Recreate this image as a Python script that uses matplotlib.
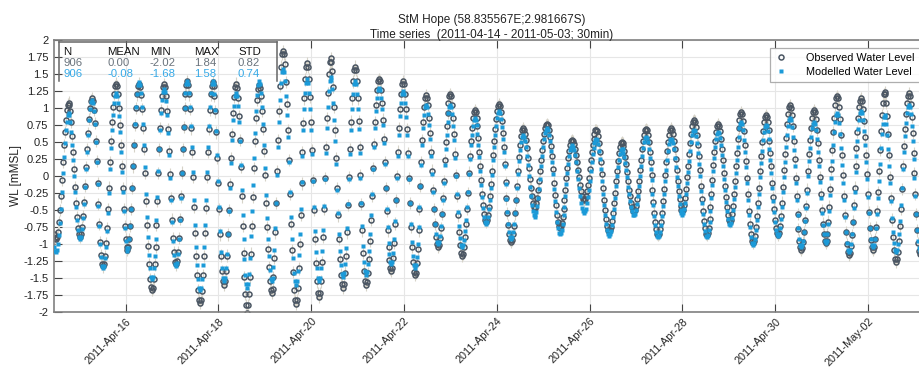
import matplotlib
matplotlib.use("Agg")
import matplotlib.pyplot as plt
import matplotlib.dates as mdates
from matplotlib.lines import Line2D
import numpy as np
import pandas as pd

# ---------------- data ----------------
start_time = "2011-04-14 11:00"
step = "30min"

observed_wl = [
    -0.85, -0.91,
    -0.93, -0.90, -0.82, -0.68, -0.50, -0.30, -0.06, 0.21, 0.45, 0.65, 0.83, 0.97, 1.05,
    1.08, 1.05, 0.95, 0.79, 0.59, 0.35, 0.10, -0.16, -0.40, -0.60, -0.76, -0.86,
    -0.89, -0.86, -0.75, -0.59, -0.38, -0.14, 0.13, 0.39, 0.63, 0.84, 1.00, 1.11,
    1.14, 1.10, 0.97, 0.78, 0.52, 0.22, -0.10, -0.41, -0.71, -0.97, -1.16, -1.29,
    -1.33, -1.29, -1.18, -0.99, -0.76, -0.48, -0.17, 0.20, 0.51, 0.79, 1.02, 1.21, 1.32,
    1.36, 1.32, 1.20, 1.00, 0.75, 0.45, 0.14, -0.18, -0.48, -0.73, -0.93, -1.05,
    -1.09, -1.05, -0.93, -0.73, -0.48, -0.18, 0.14, 0.45, 0.75, 1.00, 1.20, 1.32,
    1.36, 1.31, 1.19, 0.98, 0.71, 0.40, 0.05, -0.37, -0.72, -1.03, -1.30, -1.51, -1.63,
    -1.68, -1.64, -1.51, -1.30, -1.04, -0.72, -0.37, 0.04, 0.39, 0.71, 0.97, 1.18, 1.31,
    1.35, 1.31, 1.17, 0.96, 0.69, 0.37, 0.03, -0.32, -0.64, -0.91, -1.12, -1.26,
    -1.30, -1.25, -1.12, -0.91, -0.63, -0.30, 0.05, 0.39, 0.72, 1.00, 1.21, 1.34,
    1.39, 1.34, 1.20, 0.98, 0.70, 0.36, -0.02, -0.46, -0.84, -1.18, -1.46, -1.68, -1.82,
    -1.87, -1.82, -1.69, -1.46, -1.18, -0.84, -0.47, -0.02, 0.35, 0.69, 0.97, 1.20, 1.33,
    1.38, 1.33, 1.18, 0.95, 0.64, 0.27, -0.11, -0.49, -0.86, -1.17, -1.40, -1.55,
    -1.60, -1.55, -1.40, -1.17, -0.86, -0.50, -0.12, 0.26, 0.62, 0.93, 1.16, 1.31,
    1.36, 1.30, 1.14, 0.88, 0.53, 0.13, -0.30, -0.73, -1.13, -1.48, -1.74, -1.90,
    -2.02, -1.90, -1.74, -1.48, -1.14, -0.74, -0.31, 0.12, 0.52, 0.86, 1.12, 1.28,
    1.34, 1.29, 1.17, 0.96, 0.69, 0.37, 0.02, -0.40, -0.75, -1.07, -1.34, -1.55, -1.67,
    -1.72, -1.66, -1.48, -1.20, -0.83, -0.40, 0.07, 0.53, 0.96, 1.33, 1.61, 1.79,
    1.84, 1.79, 1.64, 1.38, 1.06, 0.67, 0.24, -0.27, -0.70, -1.09, -1.41, -1.67, -1.82,
    -1.88, -1.82, -1.64, -1.36, -1.00, -0.57, -0.11, 0.35, 0.78, 1.14, 1.42, 1.60,
    1.66, 1.60, 1.43, 1.16, 0.80, 0.38, -0.06, -0.50, -0.92, -1.28, -1.55, -1.72,
    -1.78, -1.72, -1.55, -1.27, -0.90, -0.48, -0.03, 0.43, 0.85, 1.22, 1.50, 1.67,
    1.73, 1.68, 1.54, 1.31, 1.01, 0.67, 0.27, -0.18, -0.58, -0.92, -1.22, -1.45, -1.59,
    -1.64, -1.59, -1.42, -1.17, -0.83, -0.43, -0.02, 0.40, 0.80, 1.14, 1.39, 1.56,
    1.61, 1.56, 1.40, 1.14, 0.81, 0.42, 0.01, -0.41, -0.80, -1.13, -1.39, -1.55,
    -1.60, -1.56, -1.43, -1.22, -0.95, -0.64, -0.29, 0.12, 0.47, 0.79, 1.05, 1.26, 1.39,
    1.43, 1.39, 1.27, 1.08, 0.83, 0.54, 0.21, -0.18, -0.51, -0.80, -1.05, -1.24, -1.36,
    -1.40, -1.35, -1.21, -0.99, -0.70, -0.36, 0.00, 0.36, 0.70, 0.99, 1.21, 1.35,
    1.40, 1.35, 1.21, 0.98, 0.69, 0.34, -0.03, -0.40, -0.75, -1.04, -1.27, -1.41,
    -1.46, -1.42, -1.28, -1.07, -0.80, -0.48, -0.14, 0.21, 0.53, 0.80, 1.01, 1.15,
    1.19, 1.15, 1.04, 0.86, 0.63, 0.36, 0.08, -0.21, -0.48, -0.71, -0.89, -1.00,
    -1.04, -1.01, -0.91, -0.76, -0.56, -0.33, -0.07, 0.24, 0.50, 0.73, 0.93, 1.08, 1.18,
    1.21, 1.17, 1.05, 0.86, 0.62, 0.33, 0.02, -0.29, -0.58, -0.82, -1.01, -1.13,
    -1.17, -1.14, -1.05, -0.90, -0.71, -0.49, -0.25, 0.05, 0.29, 0.51, 0.70, 0.85, 0.94,
    0.97, 0.94, 0.86, 0.73, 0.56, 0.36, 0.15, -0.06, -0.26, -0.43, -0.56, -0.64,
    -0.67, -0.64, -0.57, -0.45, -0.30, -0.12, 0.08, 0.31, 0.51, 0.69, 0.84, 0.96, 1.03,
    1.06, 1.03, 0.94, 0.81, 0.63, 0.42, 0.18, -0.09, -0.33, -0.54, -0.72, -0.85, -0.94,
    -0.97, -0.94, -0.86, -0.73, -0.55, -0.35, -0.14, 0.08, 0.28, 0.46, 0.59, 0.67,
    0.70, 0.68, 0.62, 0.53, 0.41, 0.27, 0.12, -0.04, -0.18, -0.30, -0.39, -0.45,
    -0.47, -0.45, -0.40, -0.32, -0.21, -0.08, 0.07, 0.23, 0.38, 0.51, 0.62, 0.70, 0.75,
    0.77, 0.75, 0.68, 0.58, 0.44, 0.29, 0.11, -0.10, -0.28, -0.43, -0.57, -0.67, -0.74,
    -0.76, -0.74, -0.69, -0.60, -0.49, -0.35, -0.20, -0.03, 0.12, 0.26, 0.37, 0.46, 0.51,
    0.53, 0.52, 0.47, 0.40, 0.31, 0.20, 0.09, -0.02, -0.13, -0.22, -0.29, -0.34,
    -0.35, -0.34, -0.29, -0.22, -0.13, -0.03, 0.10, 0.24, 0.36, 0.46, 0.55, 0.62, 0.67,
    0.68, 0.66, 0.59, 0.49, 0.36, 0.21, 0.03, -0.17, -0.35, -0.50, -0.63, -0.73, -0.80,
    -0.82, -0.80, -0.75, -0.66, -0.54, -0.40, -0.25, -0.07, 0.08, 0.22, 0.34, 0.43, 0.48,
    0.50, 0.49, 0.44, 0.37, 0.28, 0.18, 0.06, -0.08, -0.20, -0.30, -0.39, -0.46, -0.51,
    -0.52, -0.50, -0.44, -0.34, -0.22, -0.07, 0.09, 0.24, 0.39, 0.51, 0.61, 0.67,
    0.69, 0.67, 0.60, 0.50, 0.36, 0.20, 0.02, -0.20, -0.38, -0.54, -0.68, -0.78, -0.85,
    -0.87, -0.85, -0.78, -0.67, -0.54, -0.37, -0.19, 0.02, 0.20, 0.37, 0.50, 0.61, 0.68,
    0.70, 0.68, 0.62, 0.52, 0.40, 0.25, 0.09, -0.07, -0.22, -0.34, -0.44, -0.50,
    -0.52, -0.50, -0.43, -0.32, -0.19, -0.02, 0.15, 0.32, 0.49, 0.62, 0.73, 0.80,
    0.82, 0.80, 0.72, 0.61, 0.46, 0.29, 0.09, -0.14, -0.34, -0.51, -0.66, -0.77, -0.85,
    -0.87, -0.84, -0.76, -0.63, -0.46, -0.27, -0.06, 0.16, 0.35, 0.52, 0.65, 0.73,
    0.76, 0.74, 0.66, 0.55, 0.40, 0.23, 0.05, -0.14, -0.31, -0.46, -0.57, -0.65,
    -0.67, -0.64, -0.56, -0.44, -0.27, -0.07, 0.14, 0.34, 0.54, 0.71, 0.83, 0.91,
    0.94, 0.91, 0.81, 0.66, 0.46, 0.22, -0.03, -0.27, -0.51, -0.71, -0.86, -0.96,
    -0.99, -0.96, -0.88, -0.75, -0.59, -0.39, -0.17, 0.08, 0.30, 0.50, 0.66, 0.79, 0.87,
    0.90, 0.87, 0.80, 0.68, 0.52, 0.34, 0.14, -0.11, -0.31, -0.49, -0.65, -0.77, -0.84,
    -0.87, -0.84, -0.74, -0.59, -0.39, -0.16, 0.09, 0.33, 0.56, 0.76, 0.91, 1.01,
    1.04, 1.00, 0.90, 0.73, 0.51, 0.25, -0.03, -0.30, -0.56, -0.78, -0.95, -1.05,
    -1.09, -1.06, -0.97, -0.83, -0.65, -0.44, -0.20, 0.08, 0.32, 0.53, 0.71, 0.85, 0.94,
    0.97, 0.94, 0.84, 0.68, 0.48, 0.24, -0.01, -0.26, -0.50, -0.70, -0.86, -0.96,
    -0.99, -0.95, -0.85, -0.67, -0.45, -0.19, 0.10, 0.38, 0.64, 0.86, 1.04, 1.14,
    1.18, 1.14, 1.02, 0.84, 0.60, 0.31, 0.01, -0.29, -0.58, -0.82, -1.00, -1.12,
    -1.16, -1.13, -1.03, -0.87, -0.67, -0.43, -0.17, 0.15, 0.41, 0.65, 0.85, 1.01, 1.11,
    1.14, 1.10, 0.99, 0.81, 0.58, 0.31, 0.03, -0.26, -0.53, -0.76, -0.94, -1.05,
    -1.09, -1.05, -0.93, -0.75, -0.51, -0.23, 0.08, 0.38, 0.66, 0.90, 1.08, 1.20,
    1.24, 1.20, 1.07, 0.88, 0.62, 0.31, -0.01, -0.33, -0.64, -0.90, -1.09, -1.22,
    -1.26, -1.22, -1.12, -0.95, -0.73, -0.48, -0.19, 0.15, 0.44, 0.69, 0.91, 1.08, 1.18,
    1.22, 1.18, 1.06, 0.87, 0.63, 0.34, 0.04, -0.27, -0.56, -0.80, -0.99, -1.11,
    -1.15, -1.12, -1.02, -0.86, -0.66, -0.42, -0.16, 0.16, 0.42, 0.66,
]

modelled_wl = [
    -1.05, -1.10,
    -1.12, -1.09, -1.00, -0.87, -0.69, -0.48, -0.24, 0.04, 0.28, 0.49, 0.67, 0.80, 0.89,
    0.92, 0.89, 0.80, 0.65, 0.46, 0.24, 0.00, -0.24, -0.46, -0.65, -0.80, -0.89,
    -0.92, -0.89, -0.78, -0.62, -0.41, -0.16, 0.10, 0.36, 0.61, 0.82, 0.98, 1.09,
    1.12, 1.08, 0.95, 0.76, 0.50, 0.20, -0.12, -0.44, -0.74, -1.00, -1.19, -1.32,
    -1.36, -1.32, -1.21, -1.04, -0.81, -0.55, -0.25, 0.11, 0.41, 0.67, 0.90, 1.07, 1.18,
    1.22, 1.18, 1.07, 0.88, 0.64, 0.36, 0.06, -0.24, -0.52, -0.76, -0.95, -1.06,
    -1.10, -1.06, -0.93, -0.74, -0.48, -0.18, 0.14, 0.46, 0.76, 1.02, 1.21, 1.34,
    1.38, 1.34, 1.22, 1.02, 0.76, 0.46, 0.13, -0.27, -0.60, -0.90, -1.16, -1.36, -1.48,
    -1.52, -1.48, -1.36, -1.17, -0.92, -0.64, -0.31, 0.07, 0.40, 0.68, 0.93, 1.12, 1.24,
    1.28, 1.24, 1.11, 0.90, 0.63, 0.31, -0.03, -0.36, -0.68, -0.95, -1.16, -1.29,
    -1.33, -1.28, -1.15, -0.93, -0.65, -0.32, 0.04, 0.39, 0.72, 1.00, 1.22, 1.35,
    1.40, 1.35, 1.22, 1.01, 0.74, 0.42, 0.06, -0.36, -0.72, -1.04, -1.31, -1.52, -1.65,
    -1.68, -1.65, -1.52, -1.31, -1.04, -0.72, -0.36, 0.06, 0.42, 0.74, 1.01, 1.22, 1.35,
    1.40, 1.35, 1.20, 0.97, 0.66, 0.31, -0.08, -0.46, -0.81, -1.12, -1.35, -1.50,
    -1.55, -1.50, -1.36, -1.15, -0.86, -0.52, -0.17, 0.19, 0.53, 0.82, 1.03, 1.17,
    1.22, 1.17, 1.03, 0.80, 0.51, 0.16, -0.21, -0.58, -0.93, -1.22, -1.45, -1.59,
    -1.64, -1.59, -1.44, -1.20, -0.88, -0.52, -0.13, 0.27, 0.63, 0.95, 1.19, 1.34,
    1.39, 1.35, 1.22, 1.02, 0.76, 0.46, 0.12, -0.28, -0.62, -0.92, -1.18, -1.38, -1.51,
    -1.55, -1.50, -1.34, -1.09, -0.77, -0.39, 0.02, 0.42, 0.80, 1.12, 1.37, 1.53,
    1.58, 1.53, 1.40, 1.18, 0.90, 0.58, 0.21, -0.23, -0.60, -0.92, -1.20, -1.42, -1.55,
    -1.60, -1.55, -1.40, -1.16, -0.85, -0.48, -0.09, 0.30, 0.67, 0.98, 1.22, 1.37,
    1.42, 1.37, 1.22, 0.99, 0.68, 0.32, -0.07, -0.45, -0.81, -1.12, -1.35, -1.50,
    -1.55, -1.50, -1.35, -1.11, -0.80, -0.44, -0.05, 0.34, 0.70, 1.01, 1.25, 1.40,
    1.45, 1.41, 1.28, 1.08, 0.83, 0.52, 0.18, -0.21, -0.55, -0.86, -1.11, -1.31, -1.44,
    -1.48, -1.43, -1.29, -1.06, -0.76, -0.41, -0.04, 0.33, 0.68, 0.98, 1.21, 1.35,
    1.40, 1.35, 1.21, 0.98, 0.69, 0.34, -0.03, -0.39, -0.74, -1.03, -1.26, -1.40,
    -1.45, -1.41, -1.29, -1.11, -0.86, -0.58, -0.26, 0.11, 0.43, 0.71, 0.96, 1.14, 1.26,
    1.30, 1.26, 1.15, 0.98, 0.75, 0.48, 0.18, -0.18, -0.48, -0.75, -0.98, -1.15, -1.26,
    -1.30, -1.26, -1.13, -0.93, -0.66, -0.35, -0.03, 0.30, 0.61, 0.88, 1.08, 1.21,
    1.25, 1.21, 1.08, 0.87, 0.60, 0.29, -0.05, -0.39, -0.70, -0.97, -1.18, -1.31,
    -1.35, -1.31, -1.19, -1.00, -0.75, -0.46, -0.15, 0.16, 0.45, 0.70, 0.89, 1.01,
    1.05, 1.02, 0.91, 0.75, 0.54, 0.29, 0.03, -0.24, -0.49, -0.70, -0.86, -0.97,
    -1.00, -0.97, -0.88, -0.74, -0.56, -0.35, -0.11, 0.16, 0.40, 0.61, 0.79, 0.93, 1.02,
    1.05, 1.01, 0.91, 0.74, 0.53, 0.27, 0.00, -0.27, -0.53, -0.74, -0.91, -1.01,
    -1.05, -1.02, -0.94, -0.81, -0.65, -0.45, -0.23, 0.03, 0.25, 0.45, 0.61, 0.74, 0.82,
    0.85, 0.82, 0.75, 0.62, 0.46, 0.28, 0.08, -0.13, -0.31, -0.47, -0.60, -0.67,
    -0.70, -0.68, -0.61, -0.49, -0.35, -0.18, 0.01, 0.24, 0.43, 0.60, 0.74, 0.86, 0.93,
    0.95, 0.92, 0.84, 0.72, 0.55, 0.36, 0.14, -0.12, -0.34, -0.53, -0.70, -0.82, -0.90,
    -0.93, -0.90, -0.83, -0.71, -0.55, -0.36, -0.17, 0.03, 0.22, 0.38, 0.50, 0.57,
    0.60, 0.58, 0.52, 0.43, 0.30, 0.16, 0.00, -0.16, -0.30, -0.43, -0.52, -0.58,
    -0.60, -0.58, -0.53, -0.44, -0.32, -0.19, -0.04, 0.14, 0.29, 0.42, 0.54, 0.63, 0.68,
    0.70, 0.68, 0.61, 0.51, 0.37, 0.21, 0.03, -0.19, -0.37, -0.53, -0.67, -0.77, -0.84,
    -0.86, -0.84, -0.79, -0.70, -0.58, -0.45, -0.29, -0.12, 0.04, 0.17, 0.29, 0.38, 0.43,
    0.45, 0.43, 0.38, 0.31, 0.20, 0.08, -0.05, -0.17, -0.29, -0.40, -0.47, -0.52,
    -0.54, -0.52, -0.48, -0.40, -0.31, -0.20, -0.07, 0.08, 0.21, 0.32, 0.41, 0.49, 0.53,
    0.55, 0.53, 0.47, 0.37, 0.25, 0.10, -0.07, -0.26, -0.43, -0.58, -0.70, -0.80, -0.86,
    -0.88, -0.86, -0.81, -0.72, -0.61, -0.48, -0.33, -0.15, 0.00, 0.13, 0.24, 0.33, 0.38,
    0.40, 0.39, 0.34, 0.28, 0.19, 0.09, -0.02, -0.16, -0.27, -0.37, -0.46, -0.52, -0.57,
    -0.58, -0.56, -0.50, -0.41, -0.29, -0.15, 0.00, 0.15, 0.29, 0.41, 0.50, 0.56,
    0.58, 0.56, 0.50, 0.40, 0.27, 0.11, -0.06, -0.26, -0.43, -0.59, -0.72, -0.82, -0.88,
    -0.90, -0.88, -0.82, -0.72, -0.59, -0.44, -0.27, -0.08, 0.09, 0.24, 0.37, 0.47, 0.53,
    0.55, 0.53, 0.48, 0.39, 0.27, 0.13, -0.01, -0.15, -0.29, -0.41, -0.50, -0.55,
    -0.57, -0.55, -0.49, -0.39, -0.26, -0.11, 0.06, 0.22, 0.37, 0.50, 0.60, 0.66,
    0.68, 0.66, 0.59, 0.48, 0.34, 0.18, 0.00, -0.22, -0.40, -0.56, -0.70, -0.81, -0.88,
    -0.90, -0.87, -0.80, -0.67, -0.51, -0.33, -0.13, 0.08, 0.26, 0.42, 0.55, 0.62,
    0.65, 0.63, 0.56, 0.45, 0.31, 0.14, -0.04, -0.21, -0.38, -0.52, -0.63, -0.70,
    -0.72, -0.69, -0.62, -0.50, -0.34, -0.16, 0.04, 0.24, 0.42, 0.58, 0.70, 0.77,
    0.80, 0.77, 0.68, 0.53, 0.35, 0.13, -0.11, -0.35, -0.57, -0.75, -0.90, -0.99,
    -1.02, -0.99, -0.92, -0.80, -0.64, -0.46, -0.26, -0.01, 0.19, 0.37, 0.53, 0.65, 0.72,
    0.75, 0.73, 0.66, 0.55, 0.40, 0.24, 0.05, -0.18, -0.37, -0.53, -0.68, -0.79, -0.86,
    -0.88, -0.85, -0.76, -0.63, -0.45, -0.24, -0.02, 0.21, 0.42, 0.60, 0.73, 0.82,
    0.85, 0.82, 0.72, 0.57, 0.38, 0.15, -0.10, -0.35, -0.58, -0.77, -0.92, -1.02,
    -1.05, -1.02, -0.95, -0.82, -0.66, -0.47, -0.25, 0.00, 0.22, 0.41, 0.57, 0.70, 0.77,
    0.80, 0.77, 0.68, 0.54, 0.36, 0.14, -0.09, -0.32, -0.54, -0.72, -0.86, -0.95,
    -0.98, -0.95, -0.85, -0.70, -0.51, -0.28, -0.03, 0.22, 0.45, 0.64, 0.79, 0.89,
    0.92, 0.89, 0.78, 0.62, 0.41, 0.16, -0.10, -0.36, -0.61, -0.82, -0.98, -1.09,
    -1.12, -1.09, -1.00, -0.86, -0.68, -0.47, -0.23, 0.06, 0.30, 0.51, 0.69, 0.83, 0.92,
    0.95, 0.92, 0.82, 0.66, 0.45, 0.21, -0.05, -0.31, -0.55, -0.76, -0.92, -1.02,
    -1.05, -1.02, -0.92, -0.77, -0.56, -0.33, -0.08, 0.18, 0.41, 0.62, 0.77, 0.87,
    0.90, 0.87, 0.77, 0.61, 0.40, 0.15, -0.11, -0.37, -0.62, -0.83, -0.99, -1.09,
    -1.12, -1.09, -1.00, -0.85, -0.66, -0.43, -0.18, 0.11, 0.36, 0.59, 0.78, 0.93, 1.02,
    1.05, 1.01, 0.91, 0.74, 0.51, 0.25, -0.03, -0.30, -0.56, -0.79, -0.96, -1.06,
    -1.10, -1.07, -0.98, -0.84, -0.66, -0.45, -0.21, 0.06, 0.30, 0.51,
]

tick_dates = ["2011-04-16", "2011-04-18", "2011-04-20", "2011-04-22", "2011-04-24",
              "2011-04-26", "2011-04-28", "2011-04-30", "2011-05-02"]
y_ticks = [-2, -1.75, -1.5, -1.25, -1, -0.75, -0.5, -0.25, 0,
           0.25, 0.5, 0.75, 1, 1.25, 1.5, 1.75, 2]

stats_header = ["N", "MEAN", "MIN", "MAX", "STD"]
stats_observed = ["906", "0.00", "-2.02", "1.84", "0.82"]
stats_modelled = ["906", "-0.08", "-1.68", "1.58", "0.74"]

title_lines = ["StM Hope (58.835567E;2.981667S)",
               "Time series  (2011-04-14 - 2011-05-03; 30min)"]
legend_labels = ["Observed Water Level", "Modelled Water Level"]
y_label = "WL [mMSL]"

# ---------------- styling ----------------
plt.rcParams["font.family"] = ["Liberation Sans", "DejaVu Sans"]
OBS_C = "#4b5663"
MOD_C = "#1b9ad8"
ROW2_C = "#6a737c"
ROW3_C = "#36a9e6"

W, H = 919, 368
fig = plt.figure(figsize=(W / 100, H / 100), dpi=100)
ax_l, ax_r, ax_t, ax_b = 54, 929, 40, 312
ax = fig.add_axes([ax_l / W, 1 - ax_b / H, (ax_r - ax_l) / W, (ax_b - ax_t) / H])

t_obs = pd.date_range(start_time, periods=len(observed_wl), freq=step)
t_mod = pd.date_range(start_time, periods=len(modelled_wl), freq=step)
obs = np.array(observed_wl)
mod = np.array(modelled_wl)

ax.vlines(t_obs, obs - 0.09, obs + 0.09, color="#d6d3c8", lw=0.8, zorder=1)
ax.plot(t_obs, obs, linestyle="none", marker="o", ms=3.6, mfc="none",
        mec=OBS_C, mew=1.1, zorder=2, label=legend_labels[0])
ax.plot(t_mod, mod, linestyle="none", marker="s", ms=2.6, mfc=MOD_C,
        mec="none", zorder=3, label=legend_labels[1])

ax.set_xlim(t_obs[0], t_obs[-1])
ax.set_ylim(-2, 2)
ax.set_yticks(y_ticks)
ax.set_yticklabels([f"{v:g}" for v in y_ticks])
ax.set_xticks(pd.to_datetime(tick_dates))
ax.xaxis.set_major_formatter(mdates.DateFormatter("%Y-%b-%d"))
ax.tick_params(direction="in", length=6, width=0.8, color="#444444",
               labelsize=8, top=True, right=True, labelcolor="#222222", pad=4)
ax.tick_params(axis="x", labelsize=7.8, pad=3)
plt.setp(ax.get_xticklabels(), rotation=45, ha="right", va="top",
         rotation_mode="anchor")

ax.grid(True, color="#e6e6e6", lw=0.8, zorder=0)
ax.set_axisbelow(True)
for s in ax.spines.values():
    s.set_color("#808080")
    s.set_linewidth(1.2)

ax.set_ylabel(y_label, fontsize=8.5, color="#222222", labelpad=1)
ax.set_title("\n".join(title_lines), fontsize=8.5, color="#222222",
             pad=1.5, linespacing=1.3)

leg = ax.legend(loc="upper left", bbox_to_anchor=(770 / W, 1 - 48 / H),
                bbox_transform=fig.transFigure, fontsize=7.8, frameon=True,
                fancybox=False, edgecolor="#9a9a9a", handlelength=1.2,
                handletextpad=1.7, borderpad=0.45, labelspacing=0.35,
                borderaxespad=0)
leg.get_frame().set_linewidth(0.9)
leg.set_zorder(10)

# statistics box
bx_l, bx_r, bx_t, bx_b = 59, 277, 42, 81
for (x0, y0, x1, y1) in [(bx_l, bx_b, bx_l, bx_t), (bx_l, bx_t, bx_r, bx_t),
                         (bx_r, bx_t, bx_r, bx_b)]:
    fig.add_artist(Line2D([x0 / W, x1 / W], [1 - y0 / H, 1 - y1 / H],
                          transform=fig.transFigure, color="#666666", lw=1.1))
col_x = [63, 107, 150, 194, 238]
row_y = [52, 63, 74]
for row, color, yy in [(stats_header, "#111111", row_y[0]),
                       (stats_observed, ROW2_C, row_y[1]),
                       (stats_modelled, ROW3_C, row_y[2])]:
    for txt, xx in zip(row, col_x):
        fig.text(xx / W, 1 - yy / H, txt, fontsize=8.2, color=color,
                 ha="left", va="center")

fig.savefig("out.png", dpi=100)
